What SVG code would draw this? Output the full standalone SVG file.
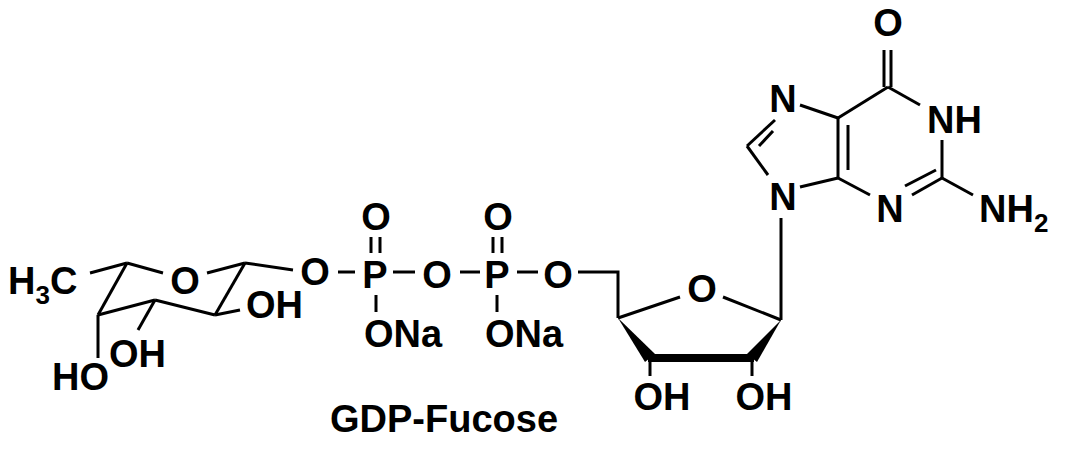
<svg xmlns="http://www.w3.org/2000/svg" width="1065" height="453" viewBox="0 0 1065 453">
<style>
text{font-family:"Liberation Sans",Arial,sans-serif;font-weight:bold;font-size:38px;fill:#000}
.m{text-anchor:middle}
line,polyline{stroke:#000;stroke-width:3;fill:none}
.sub{font-size:26px}
</style>
<rect width="1065" height="453" fill="#fff"/>
<g id="bonds">
<line x1="90" y1="273" x2="127" y2="263"/>
<line x1="127" y1="263" x2="163" y2="273"/>
<line x1="207" y1="273" x2="245" y2="263"/>
<line x1="245" y1="263" x2="293" y2="270"/>
<line x1="245" y1="263" x2="215" y2="315"/>
<line x1="215" y1="315" x2="240" y2="310"/>
<line x1="215" y1="315" x2="155" y2="300"/>
<line x1="155" y1="300" x2="138" y2="330"/>
<line x1="155" y1="300" x2="98" y2="315"/>
<line x1="98" y1="315" x2="127" y2="263"/>
<line x1="98" y1="315" x2="98" y2="358"/>
<line x1="338" y1="272" x2="355" y2="272"/>
<line x1="371" y1="237" x2="371" y2="253"/>
<line x1="380" y1="237" x2="380" y2="253"/>
<line x1="376" y1="295" x2="376" y2="312"/>
<line x1="393" y1="272" x2="415" y2="272"/>
<line x1="460" y1="272" x2="480" y2="272"/>
<line x1="493" y1="237" x2="493" y2="253"/>
<line x1="502" y1="237" x2="502" y2="253"/>
<line x1="497" y1="295" x2="497" y2="312"/>
<line x1="517" y1="272" x2="538" y2="272"/>
<polyline points="578,272 618,272 618,318"/>
<line x1="618" y1="318" x2="680" y2="297"/>
<line x1="723" y1="297" x2="781" y2="320"/>
<line x1="781" y1="320" x2="781" y2="218"/>
<polygon points="618,318 645,362 655,354" fill="#000"/>
<polygon points="781,320 757,362 747,354" fill="#000"/>
<line x1="648" y1="358" x2="754" y2="358" style="stroke-width:8"/>
<line x1="650" y1="362" x2="650" y2="376"/>
<line x1="752" y1="362" x2="752" y2="376"/>
<line x1="884" y1="50" x2="884" y2="87"/>
<line x1="891" y1="50" x2="891" y2="87"/>
<line x1="888" y1="87" x2="920" y2="105"/>
<line x1="942" y1="140" x2="942" y2="178"/>
<line x1="942" y1="178" x2="973" y2="195"/>
<line x1="942" y1="178" x2="912" y2="195"/>
<line x1="905" y1="186" x2="936" y2="170"/>
<line x1="870" y1="195" x2="838" y2="178"/>
<line x1="838" y1="178" x2="838" y2="118"/>
<line x1="848" y1="125" x2="848" y2="170"/>
<line x1="838" y1="118" x2="888" y2="87"/>
<line x1="838" y1="118" x2="800" y2="105"/>
<line x1="775" y1="120" x2="747" y2="146"/>
<line x1="773" y1="131" x2="759" y2="146"/>
<line x1="747" y1="146" x2="768" y2="175"/>
<line x1="800" y1="187" x2="838" y2="178"/>
</g>
<g id="fucose">
<text x="8" y="294">H<tspan class="sub" dy="10">3</tspan><tspan dy="-10">C</tspan></text>
<text class="m" x="185" y="294">O</text>
<text x="246" y="318">OH</text>
<text x="109" y="367">OH</text>
<text x="52" y="390">HO</text>
</g>
<g id="phosphate">
<text class="m" x="315" y="285">O</text>
<text class="m" x="375" y="288">P</text>
<text class="m" x="376" y="230">O</text>
<text x="364" y="347">ONa</text>
<text class="m" x="437" y="288">O</text>
<text class="m" x="497" y="288">P</text>
<text class="m" x="498" y="230">O</text>
<text x="485" y="347">ONa</text>
<text class="m" x="558" y="288">O</text>
</g>
<g id="ribose">
<text class="m" x="702" y="302">O</text>
<text class="m" x="662" y="410">OH</text>
<text class="m" x="764" y="410">OH</text>
</g>
<g id="guanine">
<text class="m" x="888" y="36">O</text>
<text x="927" y="133">NH</text>
<text x="979" y="222">NH<tspan class="sub" dy="10">2</tspan></text>
<text class="m" x="890" y="222">N</text>
<text class="m" x="783" y="112">N</text>
<text class="m" x="783" y="210">N</text>
</g>
<g id="label">
<text x="330" y="432">GDP-Fucose</text>
</g>
</svg>
